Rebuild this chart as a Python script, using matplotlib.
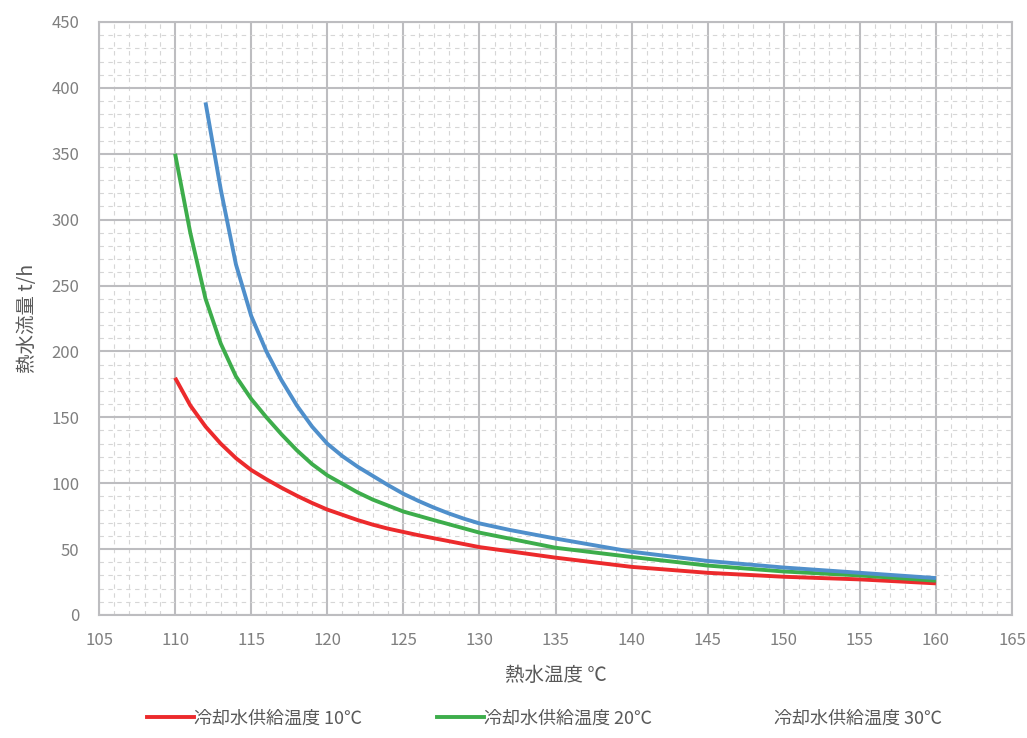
import matplotlib
matplotlib.use("Agg")
import matplotlib.pyplot as plt
from matplotlib.lines import Line2D
from matplotlib.ticker import MultipleLocator

plt.rcParams['font.family'] = ['Noto Sans CJK JP', 'DejaVu Sans']

# 冷却水供給温度 10℃
x_10 = [110, 111, 112, 113, 114, 115, 116, 117, 118, 119, 120, 121, 122, 123, 124, 125,
        126, 128, 130, 135, 140, 145, 150, 155, 160]
y_10 = [180, 159, 143, 130, 119, 110, 103, 96.5, 90.5, 85, 80, 76, 72, 68.5, 65.5, 63,
        60.5, 56, 51.5, 43.5, 36.5, 32, 29, 27, 24]

# 冷却水供給温度 20℃
x_20 = [110, 111, 112, 113, 114, 115, 116, 117, 118, 119, 120, 121, 122, 123, 124, 125,
        127, 130, 135, 140, 145, 150, 155, 160]
y_20 = [350, 290, 240, 206, 181, 164, 150, 137, 125, 114.5, 106, 99.5, 93, 87.5, 83, 78.5,
        72, 62.5, 51, 44, 37.5, 33, 30, 26]

# 冷却水供給温度 30℃
x_30 = [112, 113, 114, 115, 116, 117, 118, 119, 120, 121, 122, 123, 124, 125, 126, 127,
        128, 129, 130, 132, 135, 140, 145, 150, 155, 160]
y_30 = [389, 323, 266, 227, 200, 178, 159, 143, 130, 120.5, 112.5, 105.5, 98.5, 92, 86.5, 81.5,
        77, 73, 69.5, 64.5, 58, 48, 41, 36, 32, 28]

labels = ["冷却水供給温度 10℃", "冷却水供給温度 20℃", "冷却水供給温度 30℃"]
colors = ["#EC2A2C", "#3DAD4B", "#4F8FCB"]

fig = plt.figure(figsize=(10.27, 7.38), dpi=100)
ax = fig.add_axes([0.0964, 0.1667, 0.889, 0.8035])

for xs, ys, c in zip([x_10, x_20, x_30], [y_10, y_20, y_30], colors):
    ax.plot(xs, ys, color=c, lw=2.8, solid_capstyle='butt', solid_joinstyle='round', zorder=3)

ax.set_xlim(105, 165)
ax.set_ylim(0, 450)
ax.xaxis.set_major_locator(MultipleLocator(5))
ax.xaxis.set_minor_locator(MultipleLocator(1))
ax.yaxis.set_major_locator(MultipleLocator(50))
ax.yaxis.set_minor_locator(MultipleLocator(10))
ax.grid(which='major', color='#BDBDC0', lw=1.5, zorder=1)
ax.grid(which='minor', color='#D6D6D6', lw=0.8, ls=(0, (4, 4)), zorder=0)
for s in ax.spines.values():
    s.set_color('#BDBDC0')
    s.set_linewidth(1.5)
ax.tick_params(which='both', length=0, labelsize=12, labelcolor='#7F7F7F')
ax.tick_params(axis='y', pad=14)
ax.tick_params(axis='x', pad=12)

ax.set_xlabel("熱水温度 ℃", fontsize=14, color='#595959', labelpad=12)
ax.set_ylabel("熱水流量 t/h", fontsize=14, color='#595959', labelpad=10)

handles = [Line2D([], [], color=colors[0], lw=2.8),
           Line2D([], [], color=colors[1], lw=2.8),
           Line2D([], [], color='none', lw=2.8)]
fig.legend(handles, labels, loc='lower center', bbox_to_anchor=(0.53, -0.008), ncol=3,
           frameon=False, fontsize=13, labelcolor='#595959', handlelength=2.6,
           handletextpad=0.0, columnspacing=4.15)

fig.savefig("out.png", dpi=100)
